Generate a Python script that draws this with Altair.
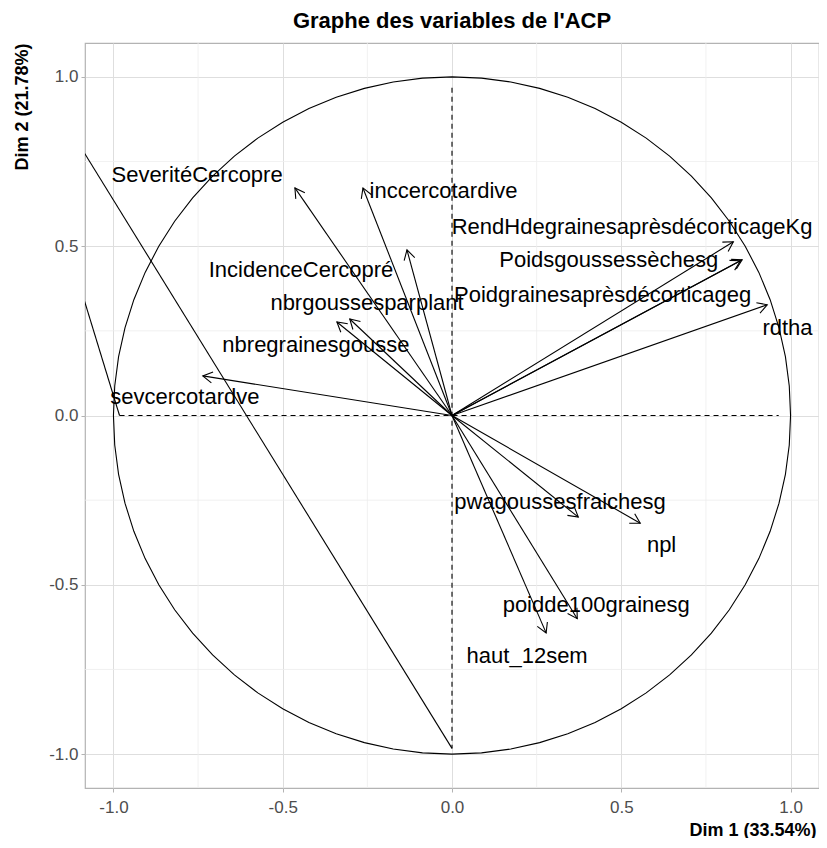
import altair as alt
import pandas as pd
import numpy as np

# ---- data ----
variables = ["SeveritéCercopre", "inccercotardive", "IncidenceCercopré", "nbregrainesgousse",
             "nbrgoussesparplant", "sevcercotardve", "RendHdegrainesaprèsdécorticageKg",
             "Poidsgoussessèchesg", "Poidgrainesaprèsdécorticageg", "rdtha",
             "pwagoussesfraichesg", "npl", "poidde100grainesg", "haut_12sem"]
dim1 = [-0.464, -0.263, -0.133, -0.340, -0.302, -0.736, 0.831, 0.857, 0.852, 0.931,
        0.373, 0.556, 0.370, 0.278]
dim2 = [0.672, 0.672, 0.489, 0.276, 0.285, 0.117, 0.513, 0.460, 0.457, 0.327,
        -0.300, -0.318, -0.600, -0.642]
label_x = [-0.753, -0.025, -0.446, -0.402, -0.251, -0.789, 0.532, 0.463, 0.445, 0.991,
           0.319, 0.619, 0.426, 0.222]
label_y = [0.711, 0.664, 0.430, 0.208, 0.333, 0.055, 0.557, 0.460, 0.356, 0.259,
           -0.256, -0.382, -0.560, -0.709]

# reference lines (dashed axes) and the two stray solid segments
dash_x1 = [-0.982, 0.0]
dash_y1 = [0.0, 0.968]
dash_x2 = [0.965, 0.0]
dash_y2 = [0.0, -0.983]
seg_x1 = [-1.1, -1.1]
seg_y1 = [0.798, 0.386]
seg_x2 = [0.0, -0.982]
seg_y2 = [-0.983, 0.0]

tick_values = [-1.0, -0.5, 0.0, 0.5, 1.0]
minor_values = [-0.75, -0.25, 0.25, 0.75]

# correlation circle (unit circle)
theta = np.linspace(0, 2 * np.pi, 73)
circle = pd.DataFrame({"cx": np.cos(theta), "cy": np.sin(theta), "o": np.arange(len(theta))})

arrows = pd.DataFrame({"var": variables, "dim1": dim1, "dim2": dim2})
labels = pd.DataFrame({"var": variables, "lx": label_x, "ly": label_y})
dashes = pd.DataFrame({"x1": dash_x1, "y1": dash_y1, "x2": dash_x2, "y2": dash_y2})
segs = pd.DataFrame({"x1": seg_x1, "y1": seg_y1, "x2": seg_x2, "y2": seg_y2})
minor = pd.DataFrame({"v": minor_values})

FONT = "Liberation Sans"
W, H = 734, 745
xs = alt.Scale(domain=[-1.084, 1.084], nice=False, zero=False)
ys = alt.Scale(domain=[-1.1, 1.1], nice=False, zero=False)
lab_expr = "replace(format(datum.value, '.1f'), '\u2212', '-')"
xaxis = alt.Axis(values=tick_values, labelExpr=lab_expr, title="Dim 1 (33.54%)",
                 titleX=W - 3, titleY=42, titleAlign="right", titleBaseline="middle",
                 titleAngle=0, labelPadding=7, grid=True)
yaxis = alt.Axis(values=tick_values, labelExpr=lab_expr, title="Dim 2 (21.78%)",
                 titleX=-63, titleY=0, titleAngle=270, titleAlign="right",
                 titleBaseline="middle", labelPadding=3, grid=True)


def X(f):
    return alt.X(f, type="quantitative", scale=xs, axis=xaxis)


def Y(f):
    return alt.Y(f, type="quantitative", scale=ys, axis=yaxis)


minor_v = alt.Chart(minor).mark_rule(color="#ededed", strokeWidth=0.8).encode(x=X("v"))
minor_h = alt.Chart(minor).mark_rule(color="#ededed", strokeWidth=0.8).encode(y=Y("v"))

circ = alt.Chart(circle).mark_line(color="black", strokeWidth=1.1).encode(
    x=X("cx"), y=Y("cy"), order="o:Q")

dash = alt.Chart(dashes).mark_rule(color="black", strokeWidth=1.1, strokeDash=[5, 4]).encode(
    x=X("x1"), y=Y("y1"), x2="x2:Q", y2="y2:Q")

seg = alt.Chart(segs).mark_rule(color="black", strokeWidth=1.1, clip=True).encode(
    x=X("x1"), y=Y("y1"), x2="x2:Q", y2="y2:Q")

shafts = alt.Chart(arrows).mark_rule(color="black", strokeWidth=1.1).encode(
    x=X("dim1"), y=Y("dim2"), x2=alt.datum(0), y2=alt.datum(0))

heads = alt.Chart(arrows).transform_calculate(
    ang="(atan2(datum.dim1, datum.dim2) * 180 / PI + 360) % 360"
).mark_point(shape="M -0.5 0.866 L 0 0 L 0.5 0.866", filled=False, color="black",
             strokeWidth=1.1, opacity=1, size=484).encode(
    x=X("dim1"), y=Y("dim2"), angle=alt.Angle("ang:Q", scale=None))

texts = alt.Chart(labels).mark_text(font=FONT, fontSize=22, color="black",
                                    align="center", baseline="middle").encode(
    x=X("lx"), y=Y("ly"), text="var:N")

chart = alt.layer(minor_v, minor_h, circ, dash, seg, shafts, heads, texts).properties(
    width=W, height=H,
    title=alt.TitleParams("Graphe des variables de l'ACP", font=FONT, fontSize=22,
                          fontWeight="bold", anchor="middle", offset=10, color="black"),
    autosize=alt.AutoSizeParams(type="none"),
    padding={"left": 77, "top": 35, "right": 0, "bottom": 50},
).configure_view(stroke="#b3b3b3", strokeWidth=1.2).configure_axis(
    domain=False, gridColor="#dedede", gridWidth=1, tickColor="#b3b3b3", tickSize=4,
    labelFont=FONT, labelFontSize=17, labelColor="#4d4d4d",
    titleFont=FONT, titleFontSize=18, titleFontWeight="bold", titleColor="black")

chart.save("out.html", embed_options={"renderer": "svg", "actions": False})
